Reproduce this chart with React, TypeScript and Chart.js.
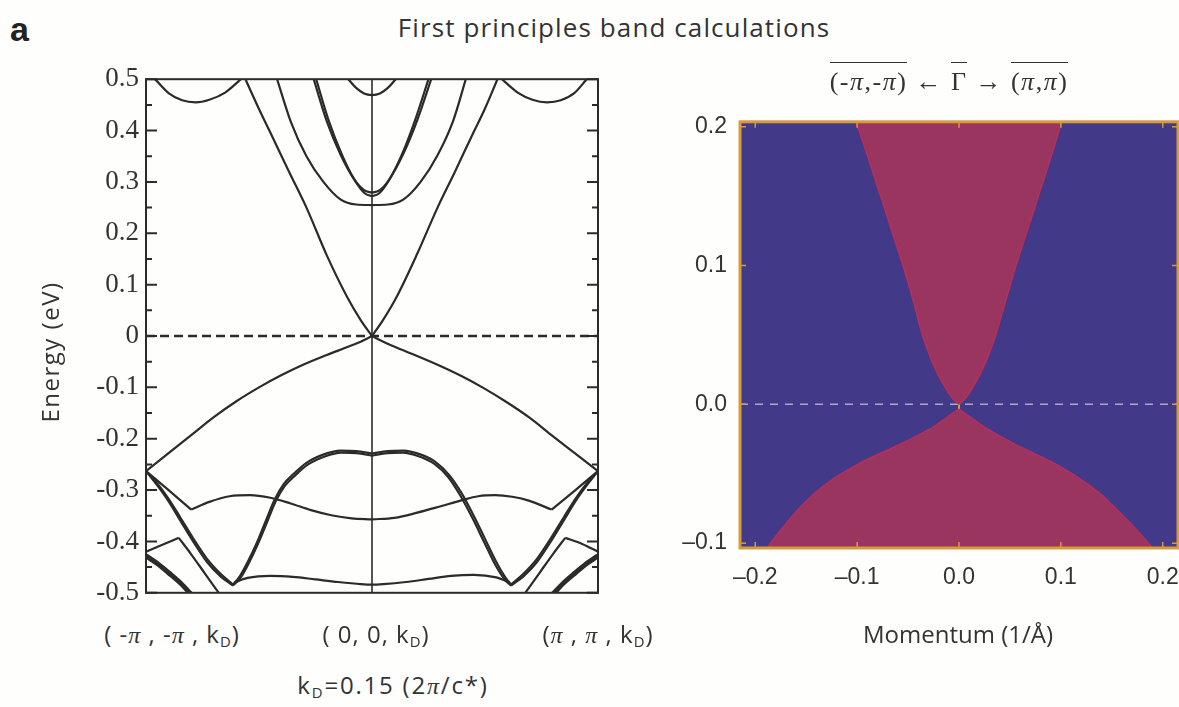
import React, { useEffect, useRef } from 'react';
import { Chart, registerables } from 'chart.js';

Chart.register(...registerables);

// ---------------- Left panel: first-principles bands ----------------
// k runs from -1 (-π,-π,kD) through 0 (0,0,kD) to +1 (π,π,kD); E in eV
const energyTicks = [0.5, 0.4, 0.3, 0.2, 0.1, 0, -0.1, -0.2, -0.3, -0.4, -0.5];
const energyMinorTicks = [0.45, 0.35, 0.25, 0.15, 0.05, -0.05, -0.15, -0.25, -0.35, -0.45];

// conduction bands
const coneUpperL = [[-0.56, 0.5], [-0.5, 0.442], [-0.44, 0.387], [-0.365, 0.318], [-0.29, 0.25], [-0.2, 0.157], [-0.11, 0.076], [-0.05, 0.031], [0, 0]];
const coneUpperR = [[0, 0], [0.05, 0.032], [0.11, 0.077], [0.2, 0.16], [0.29, 0.25], [0.365, 0.318], [0.44, 0.388], [0.5, 0.443], [0.555, 0.5]];
const secondL = [[-0.42, 0.5], [-0.36, 0.418], [-0.29, 0.35], [-0.215, 0.3], [-0.14, 0.266], [-0.07, 0.256], [0, 0.255]];
const secondR = [[0, 0.255], [0.07, 0.256], [0.14, 0.266], [0.215, 0.3], [0.29, 0.352], [0.36, 0.42], [0.415, 0.5]];
const pairAL = [[-0.258, 0.5], [-0.2, 0.418], [-0.14, 0.354], [-0.08, 0.306], [-0.035, 0.284], [0, 0.279]];
const pairBL = [[-0.247, 0.5], [-0.192, 0.42], [-0.133, 0.353], [-0.076, 0.303], [-0.032, 0.278], [0, 0.272]];
const pairAR = [[0, 0.279], [0.035, 0.284], [0.08, 0.307], [0.14, 0.356], [0.2, 0.42], [0.262, 0.5]];
const pairBR = [[0, 0.272], [0.032, 0.278], [0.076, 0.304], [0.133, 0.354], [0.192, 0.422], [0.25, 0.5]];
const topArcG = [[-0.105, 0.5], [-0.07, 0.483], [-0.035, 0.472], [0, 0.469], [0.035, 0.472], [0.07, 0.483], [0.105, 0.5]];
const topArcL = [[-0.96, 0.5], [-0.9, 0.473], [-0.84, 0.459], [-0.78, 0.455], [-0.72, 0.46], [-0.65, 0.474], [-0.58, 0.5]];
const topArcR = [[0.575, 0.5], [0.645, 0.474], [0.71, 0.46], [0.775, 0.455], [0.835, 0.459], [0.895, 0.473], [0.95, 0.5]];

// valence bands
const coneLowerL = [[-1, -0.263], [-0.9, -0.228], [-0.8, -0.193], [-0.7, -0.158], [-0.6, -0.127], [-0.5, -0.1], [-0.4, -0.076], [-0.3, -0.055], [-0.2, -0.037], [-0.1, -0.02], [-0.05, -0.011], [0, 0]];
const coneLowerR = [[0, 0], [0.05, -0.011], [0.1, -0.021], [0.2, -0.039], [0.3, -0.058], [0.4, -0.079], [0.5, -0.103], [0.6, -0.13], [0.7, -0.16], [0.8, -0.195], [0.9, -0.229], [1, -0.263]];

const mXLa = [[-1, -0.263], [-0.95, -0.287], [-0.9, -0.317], [-0.85, -0.352], [-0.79, -0.395], [-0.73, -0.434], [-0.67, -0.463], [-0.615, -0.484]];
const mXLb = [[-1, -0.263], [-0.95, -0.291], [-0.9, -0.322], [-0.85, -0.358], [-0.79, -0.401], [-0.73, -0.44], [-0.67, -0.468], [-0.615, -0.486]];
const mGLa = [[-0.615, -0.484], [-0.585, -0.468], [-0.55, -0.44], [-0.51, -0.403], [-0.47, -0.36], [-0.43, -0.318], [-0.39, -0.288], [-0.35, -0.27], [-0.29, -0.247], [-0.21, -0.23], [-0.14, -0.223], [-0.07, -0.224], [0, -0.229]];
const mGLb = [[-0.615, -0.486], [-0.582, -0.471], [-0.546, -0.443], [-0.506, -0.406], [-0.466, -0.364], [-0.426, -0.322], [-0.386, -0.292], [-0.346, -0.274], [-0.286, -0.251], [-0.206, -0.234], [-0.136, -0.227], [-0.068, -0.228], [0, -0.233]];
const mGRa = [[0, -0.229], [0.07, -0.224], [0.14, -0.223], [0.21, -0.23], [0.28, -0.245], [0.34, -0.27], [0.395, -0.305], [0.45, -0.35], [0.5, -0.395], [0.55, -0.44], [0.59, -0.47], [0.615, -0.484]];
const mGRb = [[0, -0.233], [0.068, -0.228], [0.136, -0.227], [0.206, -0.234], [0.276, -0.249], [0.336, -0.274], [0.39, -0.31], [0.445, -0.355], [0.495, -0.4], [0.545, -0.445], [0.587, -0.474], [0.615, -0.486]];
const mXRa = [[0.615, -0.484], [0.67, -0.463], [0.73, -0.434], [0.79, -0.395], [0.85, -0.352], [0.9, -0.317], [0.95, -0.287], [1, -0.263]];
const mXRb = [[0.615, -0.486], [0.67, -0.468], [0.73, -0.44], [0.79, -0.401], [0.85, -0.358], [0.9, -0.322], [0.95, -0.291], [1, -0.263]];

const flatBand = [[-0.61, -0.48], [-0.55, -0.471], [-0.45, -0.467], [-0.35, -0.469], [-0.25, -0.474], [-0.15, -0.479], [-0.05, -0.483], [0, -0.484], [0.05, -0.483], [0.15, -0.479], [0.25, -0.473], [0.35, -0.467], [0.45, -0.465], [0.55, -0.47], [0.61, -0.48]];

const midXL = [[-1, -0.263], [-0.9, -0.3], [-0.8, -0.338]];
const midGL = [[-0.8, -0.338], [-0.72, -0.323], [-0.63, -0.312], [-0.54, -0.31], [-0.45, -0.315], [-0.36, -0.326], [-0.27, -0.339], [-0.18, -0.349], [-0.09, -0.355], [0, -0.357]];
const midGR = [[0, -0.357], [0.1, -0.354], [0.2, -0.344], [0.3, -0.332], [0.395, -0.32], [0.47, -0.312], [0.545, -0.31], [0.62, -0.313], [0.69, -0.32], [0.795, -0.338]];
const midXR = [[0.795, -0.338], [0.9, -0.3], [1, -0.263]];

const lowXL = [[-1, -0.42], [-0.93, -0.407], [-0.855, -0.393]];
const lowDL = [[-0.855, -0.393], [-0.8, -0.425], [-0.74, -0.462], [-0.67, -0.505]];
const lowDR = [[0.67, -0.505], [0.74, -0.462], [0.8, -0.425], [0.855, -0.393]];
const lowXR = [[0.855, -0.393], [0.93, -0.405], [1, -0.42]];

const bundleL = [[-1, -0.428], [-0.95, -0.443], [-0.9, -0.461], [-0.85, -0.48], [-0.8, -0.503]];
const bundleR = [[0.8, -0.503], [0.85, -0.48], [0.9, -0.461], [0.95, -0.443], [1, -0.428]];

const thinBands = [coneUpperL, coneUpperR, secondL, secondR, pairAL, pairBL, pairAR, pairBR, topArcG, topArcL, topArcR,
  coneLowerL, coneLowerR, mXLa, mXLb, mGLa, mGLb, mGRa, mGRb, mXRa, mXRb, flatBand, midXL, midGL, midGR, midXR,
  lowXL, lowDL, lowDR, lowXR];
const thickBands = [bundleL, bundleR];

const gammaLineLeft = [[0, -0.5], [0, 0.5]];
const fermiLineLeft = [[-1, 0], [1, 0]];

// ---------------- Right panel: projected cone ----------------
const momentumTicks = [-0.2, -0.1, 0, 0.1, 0.2];
const energyTicksR = [-0.1, 0, 0.1, 0.2];
const momentumRange = [-0.215, 0.215];
const energyRangeR = [-0.1035, 0.2035];

const upperEdgeL = [[-0.101, 0.2035], [-0.088, 0.175], [-0.077, 0.15], [-0.066, 0.125], [-0.055, 0.1], [-0.045, 0.075], [-0.036, 0.05], [-0.026, 0.03], [-0.015, 0.014], [-0.006, 0.004], [0, 0]];
const upperEdgeR = [[0, 0], [0.006, 0.004], [0.015, 0.014], [0.026, 0.03], [0.036, 0.05], [0.046, 0.075], [0.056, 0.1], [0.067, 0.125], [0.078, 0.15], [0.089, 0.175], [0.101, 0.2035]];
const lowerEdgeL = [[-0.188, -0.1035], [-0.185, -0.1], [-0.171, -0.087], [-0.156, -0.0744], [-0.14, -0.063], [-0.123, -0.0535], [-0.106, -0.046], [-0.09, -0.0396], [-0.072, -0.0336], [-0.055, -0.0279], [-0.04, -0.0222], [-0.025, -0.0163], [-0.012, -0.0095], [0, -0.0035]];
const lowerEdgeR = [[0, -0.0035], [0.012, -0.0097], [0.025, -0.0165], [0.04, -0.0228], [0.055, -0.0288], [0.072, -0.0348], [0.09, -0.0412], [0.106, -0.0478], [0.122, -0.0553], [0.138, -0.064], [0.153, -0.0744], [0.17, -0.087], [0.186, -0.1], [0.19, -0.1035]];
const gammaLineRight = [[0, -0.1035], [0, 0.2035]];
const fermiLineRight = [[-0.215, 0], [0.215, 0]];

const SERIF = '"Liberation Serif", "Times New Roman", serif';
const SANS = '"Open Sans", "Liberation Sans", sans-serif';
const HELV = '"Liberation Sans", Arial, sans-serif';
const INK = '#2b2b2b';
const BLUE = '#423988';
const PINK = '#9a3560';
const EDGE = '#b52f5d';
const ORANGE = '#d89b3c';

const xy = (pts: number[][]) => pts.map(([x, y]) => ({ x, y }));

function leftConfig(): any {
  const datasets: any[] = [];
  thinBands.forEach((b) => datasets.push({ data: xy(b), borderColor: INK, borderWidth: 2.2, pointRadius: 0, cubicInterpolationMode: 'monotone', fill: false }));
  thickBands.forEach((b) => datasets.push({ data: xy(b), borderColor: INK, borderWidth: 5, pointRadius: 0, cubicInterpolationMode: 'monotone', fill: false }));
  datasets.push({ data: xy(gammaLineLeft), borderColor: INK, borderWidth: 1.6, pointRadius: 0, tension: 0, fill: false });
  datasets.push({ data: xy(fermiLineLeft), borderColor: INK, borderWidth: 2.6, borderDash: [9, 5], pointRadius: 0, tension: 0, fill: false });

  const frame = {
    id: 'leftFrame',
    afterDatasetsDraw(chart: any) {
      const { ctx, chartArea: a, scales } = chart;
      ctx.save();
      ctx.strokeStyle = INK;
      ctx.lineWidth = 2;
      ctx.strokeRect(a.left, a.top, a.width, a.height);
      const tick = (v: number, len: number) => {
        const py = scales.y.getPixelForValue(v);
        ctx.beginPath();
        ctx.moveTo(a.left, py); ctx.lineTo(a.left + len, py);
        ctx.moveTo(a.right, py); ctx.lineTo(a.right - len, py);
        ctx.stroke();
      };
      energyTicks.forEach((v) => tick(v, 11));
      energyMinorTicks.forEach((v) => tick(v, 6));
      ctx.restore();
    },
  };

  return {
    type: 'line',
    data: { datasets },
    options: {
      animation: false,
      responsive: false,
      events: [],
      layout: { padding: { top: 10, right: 12, bottom: 15, left: 0 } },
      plugins: { legend: { display: false }, tooltip: { enabled: false } },
      scales: {
        x: { type: 'linear', min: -1, max: 1, display: false },
        y: {
          type: 'linear', min: -0.5, max: 0.5,
          grid: { display: false, drawTicks: false },
          border: { display: false },
          afterFit: (s: any) => { s.width = 86; },
          afterBuildTicks: (s: any) => { s.ticks = energyTicks.map((v) => ({ value: v })); },
          ticks: {
            padding: 7,
            color: '#333',
            font: { family: SERIF, size: 27 },
            callback: (v: any) => (Math.abs(v) < 1e-9 ? '0' : (Math.round(v * 10) / 10).toFixed(1)),
          },
        },
      },
    },
    plugins: [frame],
  };
}

function rightConfig(): any {
  const fillDs = (pts: number[][], fill: string) => ({
    data: xy(pts), fill, backgroundColor: PINK, borderColor: EDGE, borderWidth: 1.5,
    pointRadius: 0, cubicInterpolationMode: 'monotone',
  });
  const datasets: any[] = [
    fillDs(upperEdgeL, 'end'),
    fillDs(upperEdgeR, 'end'),
    fillDs(lowerEdgeL, 'start'),
    fillDs(lowerEdgeR, 'start'),
    { data: xy(fermiLineRight), borderColor: 'rgba(205,192,214,0.8)', borderWidth: 1.6, borderDash: [8, 7], pointRadius: 0, tension: 0, fill: false },
    { data: xy(gammaLineRight), borderColor: ORANGE, borderWidth: 2, pointRadius: 0, tension: 0, fill: false },
  ];
  const fmt = (v: number) => {
    const r = Math.round(v * 10) / 10;
    return (r < 0 ? '\u2013' : '') + Math.abs(r).toFixed(1);
  };
  const frame = {
    id: 'rightFrame',
    beforeDraw(chart: any) {
      const { ctx, chartArea: a } = chart;
      ctx.save();
      ctx.fillStyle = BLUE;
      ctx.fillRect(a.left, a.top, a.width, a.height);
      ctx.restore();
    },
    afterDatasetsDraw(chart: any) {
      const { ctx, chartArea: a, scales } = chart;
      ctx.save();
      ctx.strokeStyle = ORANGE;
      ctx.lineWidth = 3;
      ctx.strokeRect(a.left, a.top, a.width, a.height);
      ctx.lineWidth = 1.5;
      ctx.beginPath();
      momentumTicks.forEach((v) => {
        const px = scales.x.getPixelForValue(v);
        ctx.moveTo(px, a.bottom); ctx.lineTo(px, a.bottom - 6);
        ctx.moveTo(px, a.top); ctx.lineTo(px, a.top + 6);
      });
      energyTicksR.forEach((v) => {
        const py = scales.y.getPixelForValue(v);
        ctx.moveTo(a.left, py); ctx.lineTo(a.left + 6, py);
        ctx.moveTo(a.right, py); ctx.lineTo(a.right - 6, py);
      });
      ctx.stroke();
      ctx.restore();
    },
  };
  return {
    type: 'line',
    data: { datasets },
    options: {
      animation: false,
      responsive: false,
      events: [],
      layout: { padding: { top: 13, right: 32, bottom: 0, left: 0 } },
      plugins: { legend: { display: false }, tooltip: { enabled: false }, filler: { propagate: false } },
      scales: {
        x: {
          type: 'linear', min: momentumRange[0], max: momentumRange[1],
          grid: { display: false, drawTicks: false },
          border: { display: false },
          afterFit: (s: any) => { s.height = 77; },
          afterBuildTicks: (s: any) => { s.ticks = momentumTicks.map((v) => ({ value: v })); },
          ticks: { padding: 16, color: '#333', font: { family: HELV, size: 23 }, callback: (v: any) => fmt(v), maxRotation: 0 },
        },
        y: {
          type: 'linear', min: energyRangeR[0], max: energyRangeR[1],
          grid: { display: false, drawTicks: false },
          border: { display: false },
          afterFit: (s: any) => { s.width = 80; },
          afterBuildTicks: (s: any) => { s.ticks = energyTicksR.map((v) => ({ value: v })); },
          ticks: { padding: 13, color: '#333', font: { family: HELV, size: 23 }, callback: (v: any) => fmt(v) },
        },
      },
    },
    plugins: [frame],
  };
}

const abs = (s: React.CSSProperties): React.CSSProperties => ({ position: 'absolute', margin: 0, whiteSpace: 'nowrap', color: '#333', lineHeight: 1, ...s });
const Pi = () => <span style={{ fontFamily: SERIF, fontStyle: 'italic' }}>π</span>;
const Sub = ({ t }: { t: string }) => <span style={{ fontSize: '0.62em', verticalAlign: '-0.3em' }}>{t}</span>;
const over: React.CSSProperties = { borderTop: '1.5px solid #333', paddingTop: 4 };

export default function App() {
  const leftRef = useRef<HTMLCanvasElement>(null);
  const rightRef = useRef<HTMLCanvasElement>(null);
  useEffect(() => {
    const c1 = new Chart(leftRef.current as HTMLCanvasElement, leftConfig());
    const c2 = new Chart(rightRef.current as HTMLCanvasElement, rightConfig());
    return () => { c1.destroy(); c2.destroy(); };
  }, []);

  const label: React.CSSProperties = { fontFamily: SANS, fontSize: 24, letterSpacing: 1, textAlign: 'center' };

  return (
    <div style={{ position: 'absolute', left: 0, top: 0, width: 1179, height: 707, overflow: 'hidden', background: '#fefefc' }}>
      <div style={abs({ left: 10, top: 12, fontFamily: HELV, fontWeight: 'bold', fontSize: 34, color: '#222' })}>a</div>
      <div style={abs({ left: 364, width: 500, top: 14, textAlign: 'center', fontFamily: SANS, fontSize: 26, letterSpacing: 1.1 })}>First principles band calculations</div>

      <canvas ref={leftRef} width={550} height={560} style={{ position: 'absolute', left: 60, top: 56 }} />
      <canvas ref={rightRef} width={550} height={530} style={{ position: 'absolute', left: 660, top: 95 }} />

      <div style={abs({ left: 50 - 100, top: 352 - 12, width: 200, height: 24, textAlign: 'center', fontFamily: SANS, fontSize: 24, letterSpacing: 1.5, transform: 'rotate(-90deg)' })}>Energy (eV)</div>

      <div style={abs({ ...label, left: 172 - 100, width: 200, top: 622 })}>( -<Pi /> , -<Pi /> , k<Sub t="D" />)</div>
      <div style={abs({ ...label, left: 376 - 100, width: 200, top: 622 })}>( 0, 0, k<Sub t="D" />)</div>
      <div style={abs({ ...label, left: 598 - 100, width: 200, top: 622 })}>(<Pi /> , <Pi /> , k<Sub t="D" />)</div>
      <div style={abs({ ...label, letterSpacing: 1.8, left: 393 - 150, width: 300, top: 673 })}>k<Sub t="D" />=0.15 (2<Pi />/c*)</div>

      <div style={abs({ left: 949 - 200, width: 400, top: 69, textAlign: 'center', fontFamily: SERIF, fontSize: 26, letterSpacing: 1.5 })}>
        <span style={over}>(-<i>π</i>,-<i>π</i>)</span>
        {' \u2190 '}
        <span style={over}>Γ</span>
        {' \u2192 '}
        <span style={over}>(<i>π</i>,<i>π</i>)</span>
      </div>
      <div style={abs({ left: 958 - 150, width: 300, top: 622, textAlign: 'center', fontFamily: SANS, fontSize: 24 })}>Momentum (1/Å)</div>
    </div>
  );
}
